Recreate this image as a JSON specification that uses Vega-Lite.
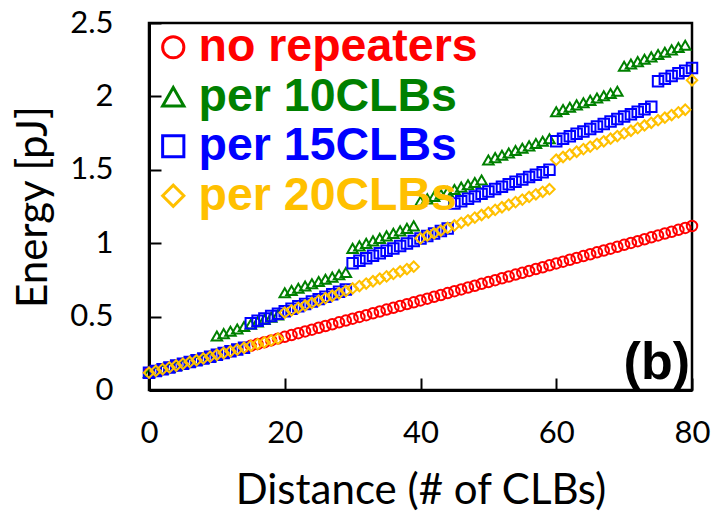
{
  "$schema": "https://vega.github.io/schema/vega-lite/v6.json",
  "width": 543,
  "height": 367,
  "autosize": {"type": "none"},
  "padding": {"left": 149, "top": 23, "right": 19, "bottom": 125},
  "background": "white",
  "config": {
    "view": {"stroke": "black", "strokeWidth": 2.5},
    "axis": {
      "grid": false,
      "domainColor": "black",
      "domainWidth": 3,
      "tickColor": "black",
      "tickWidth": 2,
      "tickSize": -12,
      "labelFont": "Lato",
      "labelFontSize": 31,
      "labelColor": "black",
      "titleFont": "Lato",
      "titleFontSize": 42,
      "titleFontWeight": "normal",
      "titleColor": "black"
    }
  },
  "datasets": {
    "energy": [
      {"d":0,"no repeaters":0.118,"per 10CLBs":0.118,"per 15CLBs":0.118,"per 20CLBs":0.118},
      {"d":1,"no repeaters":0.130,"per 10CLBs":0.130,"per 15CLBs":0.130,"per 20CLBs":0.130},
      {"d":2,"no repeaters":0.142,"per 10CLBs":0.142,"per 15CLBs":0.142,"per 20CLBs":0.142},
      {"d":3,"no repeaters":0.154,"per 10CLBs":0.154,"per 15CLBs":0.154,"per 20CLBs":0.154},
      {"d":4,"no repeaters":0.167,"per 10CLBs":0.167,"per 15CLBs":0.167,"per 20CLBs":0.167},
      {"d":5,"no repeaters":0.179,"per 10CLBs":0.179,"per 15CLBs":0.179,"per 20CLBs":0.179},
      {"d":6,"no repeaters":0.191,"per 10CLBs":0.191,"per 15CLBs":0.191,"per 20CLBs":0.191},
      {"d":7,"no repeaters":0.203,"per 10CLBs":0.203,"per 15CLBs":0.203,"per 20CLBs":0.203},
      {"d":8,"no repeaters":0.215,"per 10CLBs":0.215,"per 15CLBs":0.215,"per 20CLBs":0.215},
      {"d":9,"no repeaters":0.227,"per 10CLBs":0.227,"per 15CLBs":0.227,"per 20CLBs":0.227},
      {"d":10,"no repeaters":0.240,"per 10CLBs":0.368,"per 15CLBs":0.240,"per 20CLBs":0.240},
      {"d":11,"no repeaters":0.252,"per 10CLBs":0.384,"per 15CLBs":0.252,"per 20CLBs":0.252},
      {"d":12,"no repeaters":0.264,"per 10CLBs":0.400,"per 15CLBs":0.264,"per 20CLBs":0.264},
      {"d":13,"no repeaters":0.276,"per 10CLBs":0.416,"per 15CLBs":0.276,"per 20CLBs":0.276},
      {"d":14,"no repeaters":0.288,"per 10CLBs":0.432,"per 15CLBs":0.288,"per 20CLBs":0.288},
      {"d":15,"no repeaters":0.301,"per 10CLBs":0.448,"per 15CLBs":0.454,"per 20CLBs":0.301},
      {"d":16,"no repeaters":0.313,"per 10CLBs":0.464,"per 15CLBs":0.471,"per 20CLBs":0.313},
      {"d":17,"no repeaters":0.325,"per 10CLBs":0.480,"per 15CLBs":0.487,"per 20CLBs":0.325},
      {"d":18,"no repeaters":0.338,"per 10CLBs":0.496,"per 15CLBs":0.504,"per 20CLBs":0.338},
      {"d":19,"no repeaters":0.350,"per 10CLBs":0.512,"per 15CLBs":0.520,"per 20CLBs":0.350},
      {"d":20,"no repeaters":0.362,"per 10CLBs":0.663,"per 15CLBs":0.537,"per 20CLBs":0.527},
      {"d":21,"no repeaters":0.374,"per 10CLBs":0.678,"per 15CLBs":0.553,"per 20CLBs":0.543},
      {"d":22,"no repeaters":0.387,"per 10CLBs":0.693,"per 15CLBs":0.570,"per 20CLBs":0.560},
      {"d":23,"no repeaters":0.399,"per 10CLBs":0.709,"per 15CLBs":0.586,"per 20CLBs":0.576},
      {"d":24,"no repeaters":0.411,"per 10CLBs":0.724,"per 15CLBs":0.603,"per 20CLBs":0.593},
      {"d":25,"no repeaters":0.424,"per 10CLBs":0.739,"per 15CLBs":0.619,"per 20CLBs":0.609},
      {"d":26,"no repeaters":0.436,"per 10CLBs":0.754,"per 15CLBs":0.636,"per 20CLBs":0.626},
      {"d":27,"no repeaters":0.448,"per 10CLBs":0.769,"per 15CLBs":0.652,"per 20CLBs":0.642},
      {"d":28,"no repeaters":0.461,"per 10CLBs":0.785,"per 15CLBs":0.669,"per 20CLBs":0.659},
      {"d":29,"no repeaters":0.473,"per 10CLBs":0.800,"per 15CLBs":0.685,"per 20CLBs":0.675},
      {"d":30,"no repeaters":0.486,"per 10CLBs":0.965,"per 15CLBs":0.863,"per 20CLBs":0.692},
      {"d":31,"no repeaters":0.498,"per 10CLBs":0.982,"per 15CLBs":0.880,"per 20CLBs":0.708},
      {"d":32,"no repeaters":0.510,"per 10CLBs":0.999,"per 15CLBs":0.897,"per 20CLBs":0.725},
      {"d":33,"no repeaters":0.523,"per 10CLBs":1.016,"per 15CLBs":0.914,"per 20CLBs":0.741},
      {"d":34,"no repeaters":0.535,"per 10CLBs":1.033,"per 15CLBs":0.931,"per 20CLBs":0.758},
      {"d":35,"no repeaters":0.548,"per 10CLBs":1.050,"per 15CLBs":0.948,"per 20CLBs":0.774},
      {"d":36,"no repeaters":0.560,"per 10CLBs":1.067,"per 15CLBs":0.964,"per 20CLBs":0.791},
      {"d":37,"no repeaters":0.573,"per 10CLBs":1.084,"per 15CLBs":0.981,"per 20CLBs":0.807},
      {"d":38,"no repeaters":0.585,"per 10CLBs":1.101,"per 15CLBs":0.998,"per 20CLBs":0.824},
      {"d":39,"no repeaters":0.597,"per 10CLBs":1.118,"per 15CLBs":1.015,"per 20CLBs":0.840},
      {"d":40,"no repeaters":0.610,"per 10CLBs":1.286,"per 15CLBs":1.032,"per 20CLBs":1.033},
      {"d":41,"no repeaters":0.622,"per 10CLBs":1.302,"per 15CLBs":1.049,"per 20CLBs":1.051},
      {"d":42,"no repeaters":0.635,"per 10CLBs":1.318,"per 15CLBs":1.066,"per 20CLBs":1.068},
      {"d":43,"no repeaters":0.647,"per 10CLBs":1.334,"per 15CLBs":1.083,"per 20CLBs":1.086},
      {"d":44,"no repeaters":0.660,"per 10CLBs":1.350,"per 15CLBs":1.100,"per 20CLBs":1.104},
      {"d":45,"no repeaters":0.673,"per 10CLBs":1.366,"per 15CLBs":1.270,"per 20CLBs":1.121},
      {"d":46,"no repeaters":0.685,"per 10CLBs":1.382,"per 15CLBs":1.286,"per 20CLBs":1.139},
      {"d":47,"no repeaters":0.698,"per 10CLBs":1.398,"per 15CLBs":1.303,"per 20CLBs":1.156},
      {"d":48,"no repeaters":0.710,"per 10CLBs":1.414,"per 15CLBs":1.319,"per 20CLBs":1.174},
      {"d":49,"no repeaters":0.723,"per 10CLBs":1.430,"per 15CLBs":1.336,"per 20CLBs":1.192},
      {"d":50,"no repeaters":0.735,"per 10CLBs":1.567,"per 15CLBs":1.352,"per 20CLBs":1.209},
      {"d":51,"no repeaters":0.748,"per 10CLBs":1.583,"per 15CLBs":1.369,"per 20CLBs":1.227},
      {"d":52,"no repeaters":0.761,"per 10CLBs":1.599,"per 15CLBs":1.385,"per 20CLBs":1.245},
      {"d":53,"no repeaters":0.773,"per 10CLBs":1.615,"per 15CLBs":1.401,"per 20CLBs":1.262},
      {"d":54,"no repeaters":0.786,"per 10CLBs":1.631,"per 15CLBs":1.418,"per 20CLBs":1.280},
      {"d":55,"no repeaters":0.798,"per 10CLBs":1.647,"per 15CLBs":1.434,"per 20CLBs":1.297},
      {"d":56,"no repeaters":0.811,"per 10CLBs":1.663,"per 15CLBs":1.451,"per 20CLBs":1.315},
      {"d":57,"no repeaters":0.824,"per 10CLBs":1.679,"per 15CLBs":1.467,"per 20CLBs":1.333},
      {"d":58,"no repeaters":0.836,"per 10CLBs":1.695,"per 15CLBs":1.484,"per 20CLBs":1.350},
      {"d":59,"no repeaters":0.849,"per 10CLBs":1.711,"per 15CLBs":1.500,"per 20CLBs":1.368},
      {"d":60,"no repeaters":0.862,"per 10CLBs":1.895,"per 15CLBs":1.694,"per 20CLBs":1.569},
      {"d":61,"no repeaters":0.874,"per 10CLBs":1.911,"per 15CLBs":1.711,"per 20CLBs":1.587},
      {"d":62,"no repeaters":0.887,"per 10CLBs":1.926,"per 15CLBs":1.728,"per 20CLBs":1.605},
      {"d":63,"no repeaters":0.900,"per 10CLBs":1.942,"per 15CLBs":1.745,"per 20CLBs":1.623},
      {"d":64,"no repeaters":0.912,"per 10CLBs":1.957,"per 15CLBs":1.761,"per 20CLBs":1.641},
      {"d":65,"no repeaters":0.925,"per 10CLBs":1.973,"per 15CLBs":1.778,"per 20CLBs":1.658},
      {"d":66,"no repeaters":0.938,"per 10CLBs":1.989,"per 15CLBs":1.795,"per 20CLBs":1.676},
      {"d":67,"no repeaters":0.950,"per 10CLBs":2.004,"per 15CLBs":1.812,"per 20CLBs":1.694},
      {"d":68,"no repeaters":0.963,"per 10CLBs":2.020,"per 15CLBs":1.829,"per 20CLBs":1.712},
      {"d":69,"no repeaters":0.976,"per 10CLBs":2.035,"per 15CLBs":1.846,"per 20CLBs":1.730},
      {"d":70,"no repeaters":0.989,"per 10CLBs":2.205,"per 15CLBs":1.863,"per 20CLBs":1.748},
      {"d":71,"no repeaters":1.002,"per 10CLBs":2.221,"per 15CLBs":1.879,"per 20CLBs":1.766},
      {"d":72,"no repeaters":1.014,"per 10CLBs":2.237,"per 15CLBs":1.896,"per 20CLBs":1.784},
      {"d":73,"no repeaters":1.027,"per 10CLBs":2.253,"per 15CLBs":1.913,"per 20CLBs":1.802},
      {"d":74,"no repeaters":1.040,"per 10CLBs":2.269,"per 15CLBs":1.930,"per 20CLBs":1.820},
      {"d":75,"no repeaters":1.053,"per 10CLBs":2.285,"per 15CLBs":2.103,"per 20CLBs":1.838},
      {"d":76,"no repeaters":1.066,"per 10CLBs":2.301,"per 15CLBs":2.121,"per 20CLBs":1.855},
      {"d":77,"no repeaters":1.078,"per 10CLBs":2.317,"per 15CLBs":2.139,"per 20CLBs":1.873},
      {"d":78,"no repeaters":1.091,"per 10CLBs":2.333,"per 15CLBs":2.157,"per 20CLBs":1.891},
      {"d":79,"no repeaters":1.104,"per 10CLBs":2.349,"per 15CLBs":2.175,"per 20CLBs":1.909},
      {"d":80,"no repeaters":1.117,"per 15CLBs":2.193,"per 20CLBs":2.110}
    ]
  },
  "layer": [
    {
      "data": {"name": "energy"},
      "transform": [
        {"fold": ["no repeaters", "per 10CLBs", "per 15CLBs", "per 20CLBs"], "as": ["series", "energy"]}
      ],
      "mark": {"type": "point", "filled": false, "strokeWidth": 2, "size": 110, "opacity": 1},
      "encoding": {
        "x": {
          "field": "d", "type": "quantitative",
          "scale": {"domain": [0, 80], "nice": false},
          "axis": {"values": [0, 20, 40, 60, 80], "title": "Distance (# of CLBs)", "labelPadding": 40, "labelBaseline": "top", "titleX": 271.5, "titleY": 113, "titleBaseline": "alphabetic", "titleAlign": "center", "labelFlush": false}
        },
        "y": {
          "field": "energy", "type": "quantitative",
          "scale": {"domain": [0, 2.5], "nice": false},
          "axis": {"values": [0, 0.5, 1, 1.5, 2, 2.5], "format": "~g", "title": "Energy [pJ]", "labelPadding": 48, "labelBaseline": "middle", "titleX": -103, "titleY": 183.5, "titleAngle": -90, "titleAlign": "center", "titleBaseline": "alphabetic", "labelFlush": false}
        },
        "color": {
          "field": "series", "type": "nominal",
          "scale": {"domain": ["no repeaters", "per 10CLBs", "per 15CLBs", "per 20CLBs"], "range": ["#FF0000", "#008000", "#0000FF", "#FFC000"]},
          "legend": {"title": null, "orient": "none", "legendX": 1, "legendY": 1, "padding": 0, "labelFont": "Liberation Sans", "labelFontWeight": "bold", "labelFontSize": 46.5, "labelOffset": 2, "labelLimit": 0, "symbolSize": 450, "symbolStrokeWidth": 3, "rowPadding": 2.5,
            "labelColor": {"expr": "datum.value === 'no repeaters' ? '#FF0000' : datum.value === 'per 10CLBs' ? '#008000' : datum.value === 'per 15CLBs' ? '#0000FF' : '#FFC000'"}}
        },
        "shape": {
          "field": "series", "type": "nominal",
          "scale": {"domain": ["no repeaters", "per 10CLBs", "per 15CLBs", "per 20CLBs"], "range": ["circle", "triangle-up", "square", "diamond"]},
          "legend": {"title": null, "orient": "none", "legendX": 1, "legendY": 1, "padding": 0, "labelFont": "Liberation Sans", "labelFontWeight": "bold", "labelFontSize": 46.5, "labelOffset": 2, "labelLimit": 0, "symbolSize": 450, "symbolStrokeWidth": 3, "rowPadding": 2.5,
            "labelColor": {"expr": "datum.value === 'no repeaters' ? '#FF0000' : datum.value === 'per 10CLBs' ? '#008000' : datum.value === 'per 15CLBs' ? '#0000FF' : '#FFC000'"}}
        },
        "order": {"field": "series", "type": "ordinal", "sort": "ascending"}
      }
    },
    {
      "data": {"values": [{"label": "(b)"}]},
      "mark": {"type": "text", "font": "Liberation Sans", "fontWeight": "bold", "fontSize": 52, "align": "right", "baseline": "alphabetic", "dx": -2, "dy": -11, "color": "black"},
      "encoding": {
        "x": {"datum": 80, "type": "quantitative"},
        "y": {"datum": 0, "type": "quantitative"},
        "text": {"field": "label"}
      }
    }
  ]
}
